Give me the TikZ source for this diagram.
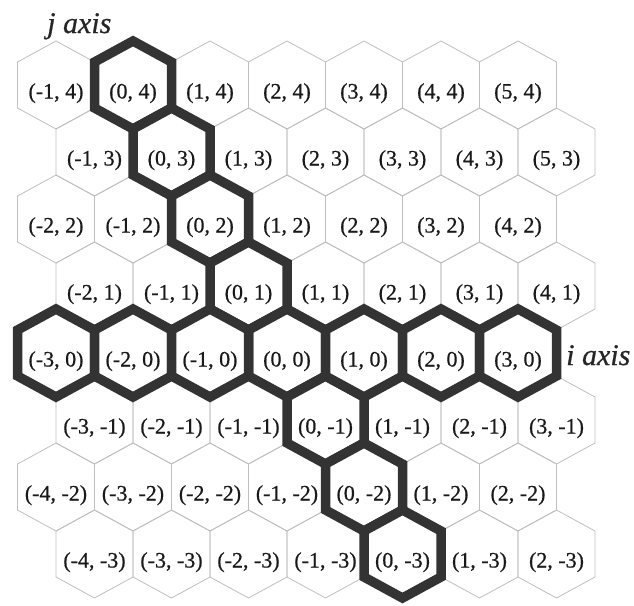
\documentclass[tikz,border=0pt]{standalone}
\usepackage{fontspec}
\setmainfont{Liberation Serif}
\newfontfamily\labelfont[FakeBold=0.6]{Liberation Serif}
\begin{document}
\begin{tikzpicture}[x=1pt,y=-1pt,
  lighthex/.style={draw=black!25,line width=0.8pt},
  boldhex/.style={draw=black!80,line width=9.5pt,line join=miter,fill=white},
  cell/.style={inner sep=0pt,anchor=base,font=\labelfont\fontsize{22}{22}\selectfont,text=black!90},
  axislabel/.style={inner sep=0pt,anchor=base west,font=\labelfont\fontsize{30}{30}\selectfont\itshape,text=black!85}]
\useasboundingbox (0,0) rectangle (634,605);
\fill[white] (0,0) rectangle (634,605);
\newcommand{\hexpath}[2]{(#1,#2) ++(0,-44) -- ++(38.5,21) -- ++(0,46) -- ++(-38.5,21) -- ++(-38.5,-21) -- ++(0,-46) -- cycle}
% light grid
\foreach \j/\lo/\hi in {4/-1/5,3/-1/5,2/-2/4,1/-2/4,0/-3/3,-1/-3/3,-2/-4/2,-3/-4/2}{
  \foreach \i in {\lo,...,\hi}{
    \pgfmathsetmacro{\cx}{287+77*\i-38.5*\j}
    \pgfmathsetmacro{\cy}{353-67*\j}
    \draw[lighthex] \hexpath{\cx}{\cy};
  }
}
% bold axes hexes
\foreach \i/\j in {0/4,0/3,0/2,0/1,0/0,0/-1,0/-2,0/-3,-3/0,-2/0,-1/0,1/0,2/0,3/0}{
  \pgfmathsetmacro{\cx}{287+77*\i-38.5*\j}
  \pgfmathsetmacro{\cy}{353-67*\j}
  \draw[boldhex] \hexpath{\cx}{\cy};
}
% labels
\foreach \j/\lo/\hi in {4/-1/5,3/-1/5,2/-2/4,1/-2/4,0/-3/3,-1/-3/3,-2/-4/2,-3/-4/2}{
  \foreach \i in {\lo,...,\hi}{
    \pgfmathsetmacro{\cx}{287+77*\i-38.5*\j}
    \pgfmathsetmacro{\cy}{353-67*\j+13.5}
    \node[cell] (h\i y\j) at (\cx,\cy) {(\i, \j)};
  }
}
\node[axislabel] (jaxis) at (47,33) {j axis};
\node[axislabel] (iaxis) at (566,365) {i axis};
\end{tikzpicture}
\end{document}
